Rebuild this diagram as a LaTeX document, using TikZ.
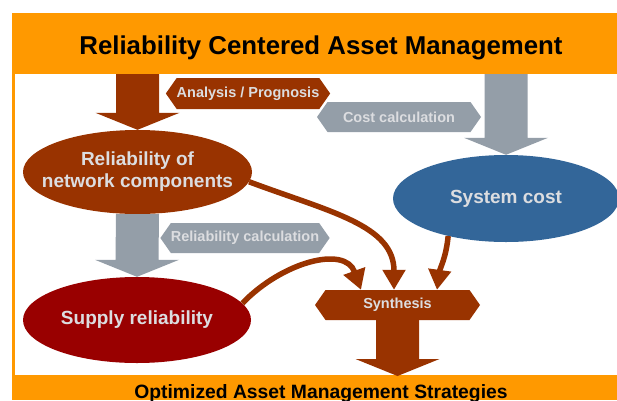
\documentclass[tikz,border=0pt]{standalone}
\usepackage{fontspec}
\setmainfont{Liberation Sans}
\usetikzlibrary{shapes.geometric,shapes.symbols,arrows.meta,calc}

\definecolor{rcorange}{HTML}{FF9900}
\definecolor{rcbrown}{HTML}{993300}
\definecolor{rcred}{HTML}{990000}
\definecolor{rcgray}{HTML}{949EA8}
\definecolor{rcblue}{HTML}{336699}
\definecolor{rclight}{HTML}{DCDDE0}

% fat arrow: colour, start, tip
\newcommand{\blockarrow}[3]{\fill[#1] ($(#2)+(-21.5,0)$) -- ($(#3)+(-21.5,-17)$) -- ($(#3)+(-42,-17)$) -- (#3) -- ($(#3)+(42,-17)$) -- ($(#3)+(21.5,-17)$) -- ($(#2)+(21.5,0)$) -- cycle;}

\begin{document}
\begin{tikzpicture}[x=1pt,y=-1pt,
  blob/.style={ellipse,inner sep=0pt,minimum width=229pt,minimum height=85pt},
  blobtext/.style={text=rclight,align=center,font=\fontsize{19}{22}\selectfont\bfseries},
  hexa/.style={signal,signal to=west and east,signal pointer angle=110,inner sep=0pt,minimum width=164pt,minimum height=30pt,text=rclight,font=\fontsize{14.5}{16}\selectfont\bfseries},
  link/.style={draw=rcbrown,line width=5.5pt,-{Triangle[width=22pt,length=20pt]}}]
\useasboundingbox (0,0) rectangle (617,400);

% Frame
\fill[rcorange] (12,13) rectangle (617,400);
\fill[white] (15,74) rectangle (617,375);
\coordinate (bandtop) at (0,74);
\coordinate (bandbot) at (0,376);
\node (title) at (321,54) [anchor=base,font=\fontsize{25.8}{30}\selectfont\bfseries] {Reliability Centered Asset Management};
\node (strategies) at (321,398.5) [anchor=base,font=\fontsize{19.3}{22}\selectfont\bfseries] {Optimized Asset Management Strategies};

% Ellipses
\node (relnet) at (137.5,172) [blob,fill=rcbrown,minimum height=84pt,
  label={[blobtext]center:Reliability of\\network components}] {};
\node (syscost) at (506,198.5) [blob,fill=rcblue,minimum width=226pt,minimum height=87pt,
  label={[blobtext]center:System cost}] {};
\node (supply) at (137,320) [blob,fill=rcred,minimum width=228pt,minimum height=86pt,
  label={[blobtext]center:Supply reliability}] {};

% Labels
\node (analysis) at (248,93.5) [hexa,fill=rcbrown,minimum height=31pt] {Analysis / Prognosis};
\node (costcalc) at (399,117) [hexa,fill=rcgray] {Cost calculation};
\node (relcalc) at (245,238) [hexa,fill=rcgray] {Reliability calculation};
\node (synth) at (397.5,305) [hexa,fill=rcbrown,minimum width=165pt] {Synthesis};

% Block arrows
\blockarrow{rcbrown}{bandtop -| relnet}{relnet.north}
\blockarrow{rcgray}{bandtop -| syscost}{syscost.north}
\blockarrow{rcgray}{relnet.south}{supply.north}
\blockarrow{rcbrown}{synth.south}{bandbot -| synth}

% Synthesis inputs
\draw[link] (relnet.-5) .. controls (330,212) and (394,225) .. ($(synth.north)+(-3.5,0)$);
\draw[link] (syscost.-147) .. controls (446,258) and (440,268) .. ($(synth.north)+(39.5,0)$);
\draw[link] (supply.9) .. controls (282,262) and (345,245) .. ($(synth.north)+(-36.5,0)$);

\end{tikzpicture}
\end{document}
